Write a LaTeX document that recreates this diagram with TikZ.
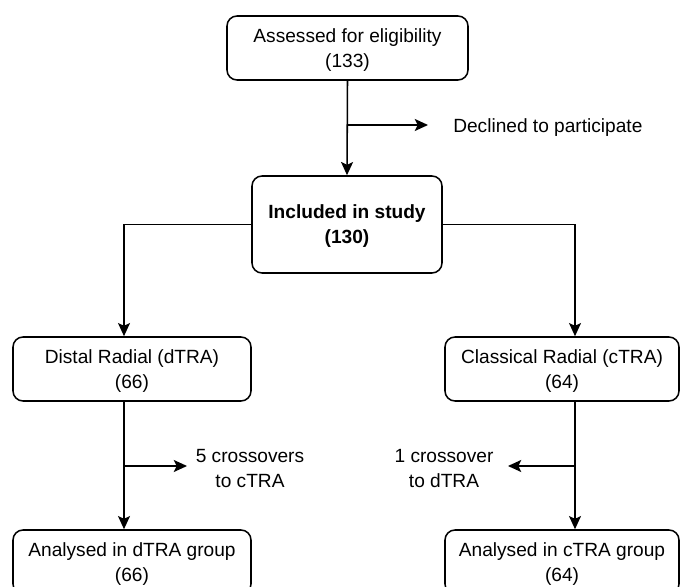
\documentclass[tikz,border=0pt]{standalone}
\usepackage{fontspec}
\setmainfont{Liberation Sans}
\usetikzlibrary{positioning, arrows.meta}
\tikzset{
  stage/.style={draw, line width=1.1pt, rounded corners=0.25cm, align=center, inner sep=0pt, text depth=0pt},
  note/.style={align=center, inner sep=0pt, text depth=0pt},
  flow/.style={line width=1.1pt, -{Stealth[length=0.33cm, width=0.3cm, inset=0.07cm]}}
}

\begin{document}
\begin{tikzpicture}[font=\fontsize{13.6}{17.8}\selectfont]
  % frame of the page
  \useasboundingbox (0,0) rectangle (17,-14.675);
  \node[stage, minimum width=6.025cm, minimum height=1.6cm] (assess) at (8.6875,-1.2) {Assessed for eligibility\\(133)};
  \node[stage, minimum width=4.75cm, minimum height=2.425cm, font=\fontsize{13.6}{17.8}\selectfont\bfseries] (incl) at (8.675,-5.6125) {Included in study\\(130)};
  \node[stage, minimum width=5.95cm, minimum height=1.6cm] (distal) at (3.3,-9.225) {Distal Radial (dTRA)\\(66)};
  \node[stage, minimum width=5.85cm, minimum height=1.6cm] (classic) at (14.05,-9.225) {Classical Radial (cTRA)\\(64)};
  \node[stage, minimum width=5.95cm, minimum height=1.6cm] (anaD) at (3.3,-14.05) {Analysed in dTRA group\\(66)};
  \node[stage, minimum width=5.85cm, minimum height=1.6cm] (anaC) at (14.05,-14.05) {Analysed in cTRA group\\(64)};
  \node[note, right] (decl) at (11.325,-3.15) {Declined to participate};
  \node[note] (crossD) at (6.25,-11.72) {5 crossovers\\to cTRA};
  \node[note] (crossC) at (11.1,-11.72) {1 crossover\\to dTRA};
  \coordinate (declTip) at (10.7,-3.125);
  \coordinate (crossDTip) at (4.675,-11.65);
  \coordinate (crossCTip) at (12.7,-11.65);
  % main flow
  \draw[flow] (assess.south) -- (incl.north);
  \draw[flow] (assess.south |- declTip) -- (declTip);
  \draw[flow] (incl.west) -| ([xshift=-0.2cm]distal.north);
  \draw[flow] (incl.east) -| ([xshift=0.325cm]classic.north);
  % arms
  \draw[flow] ([xshift=-0.2cm]distal.south) -- ([xshift=-0.2cm]anaD.north);
  \draw[flow] ([xshift=-0.2cm]distal.south |- crossDTip) -- (crossDTip);
  \draw[flow] ([xshift=0.325cm]classic.south) -- ([xshift=0.325cm]anaC.north);
  \draw[flow] ([xshift=0.325cm]classic.south |- crossCTip) -- (crossCTip);
\end{tikzpicture}
\end{document}
